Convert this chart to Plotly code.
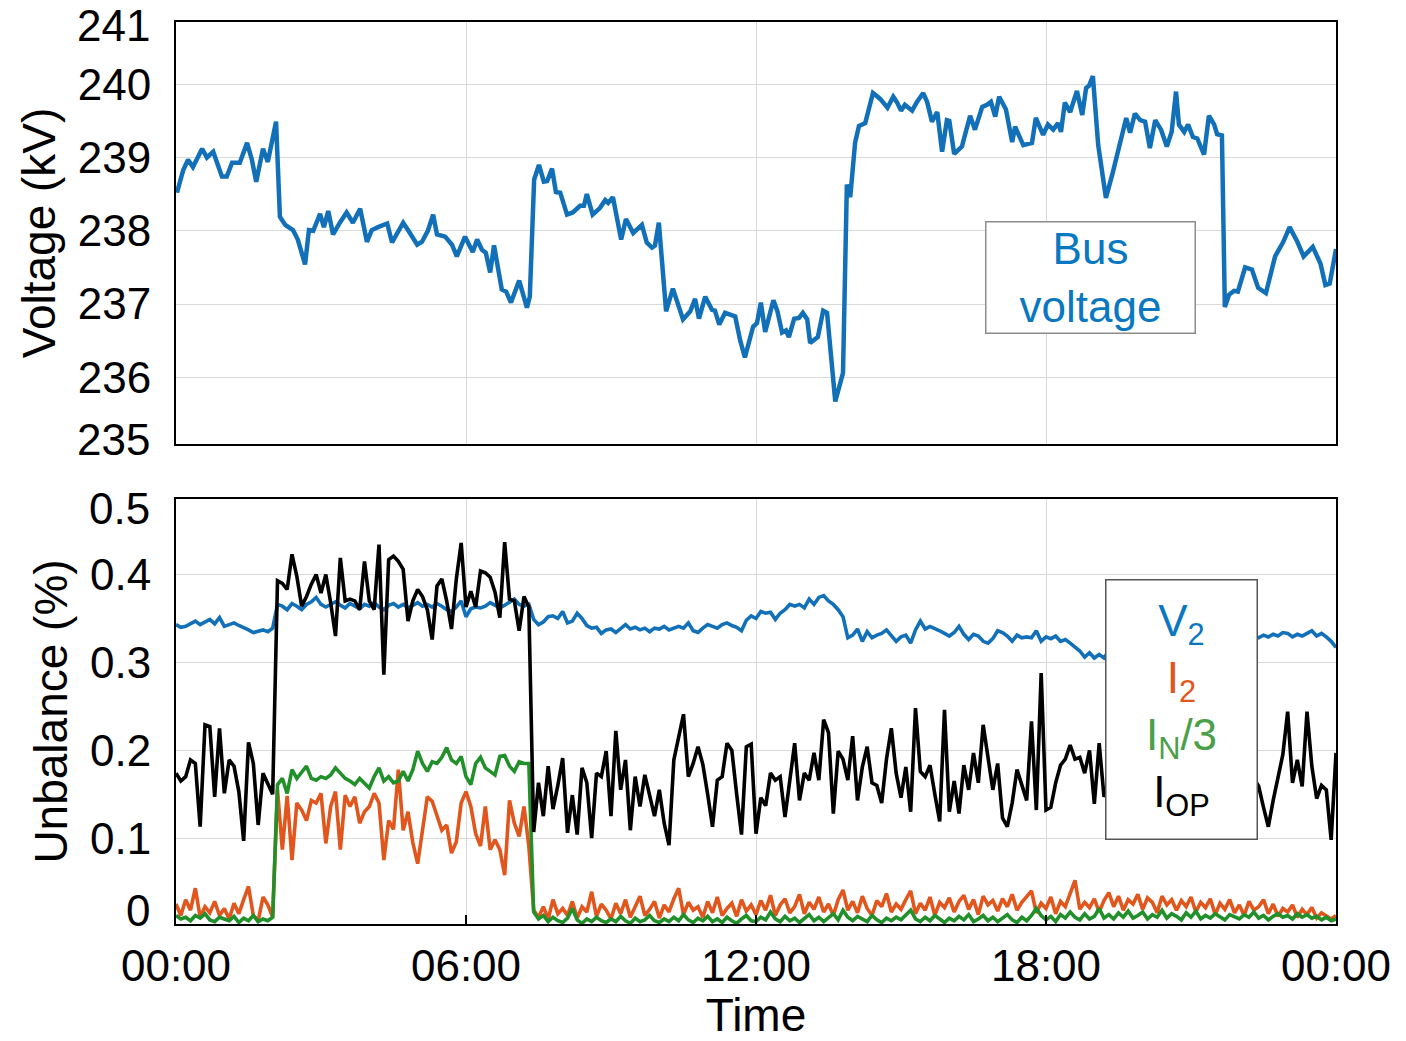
import plotly.graph_objects as go

# ---------------- data ----------------
# Bus voltage (kV), time in hours
volt_hours = [0.02, 0.15, 0.25, 0.35, 0.54, 0.64, 0.77, 0.95, 1.05, 1.16, 1.32, 1.47, 1.57, 1.66, 1.8, 1.9,
              2.07, 2.15, 2.26, 2.42, 2.52, 2.67, 2.75, 2.84, 2.98, 3.06, 3.15, 3.25, 3.39, 3.53, 3.66, 3.81,
              3.95, 4.05, 4.18, 4.37, 4.47, 4.7, 4.8, 4.99, 5.09, 5.21, 5.32, 5.4, 5.57, 5.71, 5.81, 5.98,
              6.14, 6.23, 6.33, 6.41, 6.5, 6.58, 6.74, 6.83, 6.93, 7.1, 7.26, 7.32, 7.41, 7.51, 7.61, 7.68,
              7.78, 7.86, 7.95, 8.09, 8.21, 8.36, 8.44, 8.5, 8.62, 8.77, 8.88, 8.94, 9.04, 9.12, 9.21, 9.31,
              9.46, 9.64, 9.74, 9.85, 9.91, 9.99, 10.14, 10.28, 10.49, 10.64, 10.74, 10.82, 10.95, 11.09,
              11.15, 11.24, 11.36, 11.57, 11.67, 11.77, 11.94, 12.02, 12.1, 12.19, 12.36, 12.44, 12.54,
              12.62, 12.68, 12.79, 12.89, 12.97, 13.06, 13.12, 13.28, 13.39, 13.47, 13.64, 13.8, 13.88,
              13.95, 14.05, 14.13, 14.26, 14.32, 14.42, 14.57, 14.72, 14.84, 14.92, 15.0, 15.08, 15.23,
              15.33, 15.46, 15.54, 15.64, 15.75, 15.85, 15.95, 16.0, 16.1, 16.26, 16.43, 16.53, 16.68,
              16.78, 16.86, 16.95, 17.03, 17.17, 17.3, 17.36, 17.53, 17.71, 17.79, 17.94, 18.04, 18.15,
              18.25, 18.31, 18.39, 18.5, 18.64, 18.75, 18.83, 18.89, 18.97, 19.08, 19.24, 19.38, 19.52,
              19.66, 19.74, 19.84, 19.95, 20.05, 20.15, 20.26, 20.38, 20.5, 20.6, 20.69, 20.75, 20.86,
              20.94, 21.04, 21.13, 21.19, 21.27, 21.37, 21.48, 21.54, 21.64, 21.7, 21.79, 21.89, 21.97,
              22.12, 22.26, 22.39, 22.55, 22.74, 22.91, 23.04, 23.2, 23.33, 23.52, 23.68, 23.78, 23.87, 24.0]
volt_kv = [238.52, 238.83, 238.97, 238.87, 239.12, 239.0, 239.08, 238.74, 238.74, 238.93, 238.93, 239.2,
           238.97, 238.67, 239.12, 238.94, 239.49, 238.19, 238.08, 238.01, 237.88, 237.54, 238.01, 238.0,
           238.23, 238.05, 238.27, 237.95, 238.11, 238.25, 238.11, 238.3, 237.85, 238.01, 238.05, 238.1,
           237.84, 238.11, 238.01, 237.81, 237.85, 238.0, 238.22, 237.95, 237.92, 237.81, 237.65, 237.92,
           237.71, 237.88, 237.74, 237.7, 237.43, 237.8, 237.2, 237.17, 237.02, 237.32, 236.95, 237.1,
           238.7, 238.9, 238.67, 238.68, 238.85, 238.53, 238.52, 238.22, 238.25, 238.34, 238.34, 238.5,
           238.22, 238.31, 238.42, 238.38, 238.46, 238.15, 237.88, 238.16, 237.97, 238.08, 237.84, 237.77,
           237.8, 238.11, 236.9, 237.21, 236.79, 236.9, 237.07, 236.8, 237.1, 236.92, 236.91, 236.72,
           236.88, 236.83, 236.51, 236.27, 236.69, 236.74, 237.02, 236.62, 237.05, 236.91, 236.61, 236.64,
           236.55, 236.8, 236.81, 236.88, 236.79, 236.47, 236.55, 236.91, 236.88, 235.67, 236.06, 238.63,
           238.46, 239.2, 239.43, 239.47, 239.65, 239.88, 239.8, 239.68, 239.83, 239.75, 239.64, 239.72,
           239.64, 239.76, 239.88, 239.76, 239.49, 239.62, 239.08, 239.51, 239.5, 239.05, 239.15, 239.57,
           239.38, 239.69, 239.72, 239.76, 239.56, 239.83, 239.66, 239.21, 239.42, 239.17, 239.2, 239.54,
           239.31, 239.45, 239.38, 239.47, 239.35, 239.75, 239.62, 239.91, 239.58, 239.95, 239.98, 240.11,
           239.17, 238.45, 238.79, 239.2, 239.54, 239.34, 239.6, 239.51, 239.49, 239.13, 239.51, 239.38,
           239.15, 239.35, 239.9, 239.45, 239.35, 239.45, 239.28, 239.26, 239.17, 239.04, 239.57, 239.45,
           239.32, 239.3, 236.96, 237.13, 237.18, 237.17, 237.5, 237.47, 237.22, 237.15, 237.65, 237.85,
           238.05, 237.85, 237.65, 237.78, 237.55, 237.26, 237.28, 237.75]

# Unbalance (%) sampled every 6 minutes (0.1 h), 00:00 .. 24:00
unb_hours = [i / 10 for i in range(241)]

v2_pct = [0.343, 0.340, 0.341, 0.344, 0.347, 0.343, 0.346, 0.349, 0.344, 0.351,
          0.341, 0.343, 0.345, 0.342, 0.340, 0.337, 0.334, 0.336, 0.337, 0.335,
          0.339, 0.366, 0.364, 0.360, 0.367, 0.364, 0.360, 0.366, 0.369, 0.374,
          0.366, 0.363, 0.366, 0.369, 0.365, 0.362, 0.367, 0.364, 0.361, 0.366,
          0.364, 0.368, 0.363, 0.360, 0.365, 0.367, 0.363, 0.366, 0.362, 0.365,
          0.368, 0.364, 0.366, 0.363, 0.367, 0.364, 0.360, 0.358, 0.363, 0.370,
          0.352, 0.361, 0.363, 0.362, 0.364, 0.368, 0.365, 0.362, 0.365, 0.368,
          0.372, 0.366, 0.364, 0.366, 0.349, 0.343, 0.346, 0.352, 0.353, 0.350,
          0.358, 0.345, 0.347, 0.356, 0.350, 0.342, 0.339, 0.340, 0.333, 0.337,
          0.338, 0.334, 0.339, 0.343, 0.338, 0.340, 0.337, 0.339, 0.335, 0.339,
          0.338, 0.341, 0.337, 0.339, 0.341, 0.339, 0.345, 0.336, 0.334, 0.339,
          0.343, 0.341, 0.339, 0.343, 0.345, 0.342, 0.340, 0.336, 0.348, 0.353,
          0.350, 0.358, 0.356, 0.357, 0.349, 0.356, 0.360, 0.366, 0.364, 0.366,
          0.362, 0.372, 0.366, 0.374, 0.376, 0.370, 0.366, 0.360, 0.352, 0.328,
          0.331, 0.338, 0.324, 0.335, 0.328, 0.331, 0.333, 0.337, 0.331, 0.324,
          0.329, 0.331, 0.322, 0.337, 0.347, 0.338, 0.341, 0.339, 0.336, 0.333,
          0.330, 0.334, 0.341, 0.332, 0.326, 0.332, 0.330, 0.324, 0.322, 0.327,
          0.336, 0.334, 0.330, 0.324, 0.331, 0.328, 0.329, 0.328, 0.336, 0.324,
          0.329, 0.327, 0.330, 0.324, 0.326, 0.322, 0.318, 0.313, 0.306, 0.311,
          0.305, 0.309, 0.305, 0.313, 0.311, 0.315, 0.313, 0.318, 0.316, 0.320,
          0.318, 0.322, 0.320, 0.324, 0.321, 0.325, 0.323, 0.326, 0.324, 0.327,
          0.325, 0.328, 0.326, 0.329, 0.327, 0.330, 0.328, 0.331, 0.329, 0.331,
          0.328, 0.332, 0.329, 0.331, 0.328, 0.331, 0.329, 0.332, 0.330, 0.334,
          0.333, 0.329, 0.332, 0.330, 0.333, 0.336, 0.330, 0.333, 0.329, 0.324,
          0.317]

i2_pct = [0.025, 0.012, 0.030, 0.018, 0.043, 0.010, 0.022, 0.015, 0.028, 0.012,
          0.020, 0.008, 0.026, 0.014, 0.030, 0.045, 0.012, 0.006, 0.033, 0.024,
          0.010, 0.155, 0.087, 0.148, 0.075, 0.140, 0.132, 0.120, 0.143, 0.140,
          0.151, 0.094, 0.136, 0.153, 0.087, 0.149, 0.136, 0.147, 0.117, 0.130,
          0.136, 0.151, 0.140, 0.075, 0.120, 0.110, 0.178, 0.109, 0.130, 0.095,
          0.071, 0.109, 0.147, 0.142, 0.125, 0.109, 0.115, 0.083, 0.096, 0.140,
          0.153, 0.136, 0.105, 0.091, 0.136, 0.087, 0.098, 0.087, 0.058, 0.143,
          0.117, 0.102, 0.136, 0.091, 0.018, 0.010, 0.022, 0.008, 0.030, 0.014,
          0.020, 0.012, 0.028, 0.009, 0.022, 0.016, 0.039, 0.011, 0.025, 0.018,
          0.008, 0.026, 0.014, 0.030, 0.010, 0.021, 0.034, 0.012, 0.019, 0.028,
          0.009, 0.024, 0.016, 0.031, 0.043, 0.013, 0.027, 0.018, 0.022, 0.010,
          0.028, 0.015, 0.033, 0.012, 0.020, 0.026, 0.011, 0.030, 0.017, 0.024,
          0.013, 0.029, 0.018, 0.035, 0.012, 0.024, 0.031, 0.015, 0.022, 0.036,
          0.014, 0.027, 0.019, 0.033, 0.016, 0.025, 0.012, 0.030, 0.041, 0.018,
          0.028, 0.015, 0.034, 0.020, 0.012, 0.029, 0.022, 0.037, 0.016, 0.025,
          0.019, 0.030, 0.040, 0.014, 0.026, 0.018, 0.033, 0.012, 0.027, 0.021,
          0.032, 0.016, 0.028, 0.035, 0.019, 0.030, 0.013, 0.034, 0.024, 0.029,
          0.017, 0.031, 0.022, 0.036, 0.018, 0.027, 0.033, 0.040, 0.015, 0.026,
          0.020, 0.033, 0.014, 0.028, 0.022, 0.037, 0.052, 0.019, 0.027, 0.021,
          0.031, 0.016, 0.029, 0.038, 0.022, 0.034, 0.018, 0.030, 0.025, 0.036,
          0.019, 0.032, 0.027, 0.015, 0.034, 0.024, 0.030, 0.018, 0.029, 0.022,
          0.033, 0.016, 0.027, 0.021, 0.031, 0.013, 0.026, 0.019, 0.030, 0.015,
          0.024, 0.012, 0.028, 0.018, 0.022, 0.030, 0.014, 0.025, 0.011, 0.020,
          0.016, 0.024, 0.010, 0.019, 0.013, 0.021, 0.009, 0.015, 0.012, 0.008,
          0.012]

in3_pct = [0.012, 0.008, 0.010, 0.006, 0.012, 0.009, 0.014, 0.007, 0.005, 0.010,
           0.008, 0.006, 0.011, 0.004, 0.009, 0.006, 0.012, 0.005, 0.008, 0.006,
           0.010, 0.161, 0.168, 0.151, 0.178, 0.168, 0.175, 0.182, 0.168, 0.166,
           0.170, 0.168, 0.172, 0.180, 0.174, 0.168, 0.165, 0.161, 0.168, 0.163,
           0.157, 0.170, 0.180, 0.165, 0.170, 0.163, 0.165, 0.176, 0.165, 0.178,
           0.199, 0.185, 0.176, 0.187, 0.185, 0.192, 0.203, 0.189, 0.185, 0.193,
           0.170, 0.161, 0.185, 0.192, 0.180, 0.176, 0.172, 0.193, 0.194, 0.182,
           0.176, 0.187, 0.185, 0.185, 0.016, 0.008, 0.012, 0.005, 0.010, 0.006,
           0.004, 0.009, 0.020, 0.007, 0.003, 0.008, 0.005, 0.010, 0.006, 0.004,
           0.008, 0.005, 0.011, 0.006, 0.003, 0.009, 0.005, 0.007, 0.012, 0.006,
           0.004, 0.008, 0.005, 0.010, 0.006, 0.013, 0.007, 0.004, 0.009, 0.006,
           0.011, 0.005, 0.008, 0.004, 0.010, 0.006, 0.003, 0.008, 0.012, 0.006,
           0.005, 0.010, 0.007, 0.016, 0.008, 0.005, 0.011, 0.006, 0.009, 0.004,
           0.008, 0.013, 0.006, 0.010, 0.005, 0.009, 0.014, 0.007, 0.018, 0.010,
           0.006, 0.011, 0.008, 0.005, 0.012, 0.007, 0.004, 0.009, 0.006, 0.010,
           0.007, 0.013, 0.018, 0.008, 0.005, 0.010, 0.006, 0.012, 0.008, 0.004,
           0.009, 0.006, 0.011, 0.007, 0.013, 0.005, 0.008, 0.012, 0.006, 0.010,
           0.005, 0.009, 0.013, 0.007, 0.004, 0.010, 0.006, 0.012, 0.020, 0.012,
           0.007, 0.011, 0.005, 0.013, 0.009, 0.016, 0.010, 0.007, 0.014, 0.008,
           0.011, 0.020, 0.009, 0.013, 0.008, 0.015, 0.010, 0.017, 0.009, 0.012,
           0.016, 0.008, 0.013, 0.010, 0.018, 0.009, 0.014, 0.011, 0.007, 0.015,
           0.010, 0.017, 0.008, 0.012, 0.009, 0.014, 0.011, 0.007, 0.013, 0.010,
           0.008, 0.013, 0.010, 0.016, 0.009, 0.012, 0.007, 0.011, 0.014, 0.010,
           0.012, 0.008, 0.014, 0.010, 0.013, 0.009, 0.011, 0.007, 0.010, 0.006,
           0.008]

iop_pct = [0.174, 0.165, 0.170, 0.189, 0.185, 0.113, 0.229, 0.227, 0.147, 0.225,
           0.151, 0.189, 0.182, 0.153, 0.097, 0.209, 0.185, 0.115, 0.174, 0.163,
           0.150, 0.393, 0.390, 0.383, 0.423, 0.398, 0.364, 0.375, 0.389, 0.400,
           0.379, 0.400, 0.368, 0.330, 0.419, 0.370, 0.372, 0.370, 0.360, 0.415,
           0.370, 0.360, 0.434, 0.286, 0.417, 0.421, 0.415, 0.406, 0.347, 0.370,
           0.383, 0.375, 0.360, 0.326, 0.387, 0.395, 0.370, 0.338, 0.395, 0.436,
           0.363, 0.381, 0.363, 0.404, 0.402, 0.397, 0.380, 0.351, 0.437, 0.372,
           0.370, 0.336, 0.375, 0.363, 0.107, 0.163, 0.125, 0.182, 0.133, 0.160,
           0.191, 0.106, 0.149, 0.104, 0.180, 0.163, 0.100, 0.174, 0.170, 0.199,
           0.125, 0.222, 0.155, 0.189, 0.109, 0.170, 0.136, 0.172, 0.147, 0.125,
           0.155, 0.117, 0.092, 0.189, 0.215, 0.241, 0.170, 0.185, 0.204, 0.184,
           0.150, 0.113, 0.166, 0.170, 0.208, 0.200, 0.150, 0.104, 0.204, 0.207,
           0.105, 0.146, 0.137, 0.174, 0.166, 0.170, 0.124, 0.170, 0.208, 0.143,
           0.174, 0.166, 0.197, 0.166, 0.235, 0.220, 0.128, 0.199, 0.190, 0.166,
           0.216, 0.143, 0.181, 0.204, 0.163, 0.160, 0.140, 0.190, 0.225, 0.174,
           0.146, 0.181, 0.130, 0.248, 0.176, 0.170, 0.183, 0.150, 0.119, 0.246,
           0.130, 0.165, 0.128, 0.183, 0.155, 0.197, 0.163, 0.229, 0.193, 0.155,
           0.185, 0.123, 0.113, 0.140, 0.178, 0.160, 0.143, 0.233, 0.132, 0.288,
           0.132, 0.135, 0.163, 0.183, 0.190, 0.206, 0.190, 0.192, 0.174, 0.200,
           0.139, 0.208, 0.147, 0.165, 0.190, 0.142, 0.205, 0.170, 0.128, 0.186,
           0.214, 0.150, 0.176, 0.132, 0.198, 0.160, 0.222, 0.145, 0.181, 0.169,
           0.126, 0.193, 0.210, 0.155, 0.173, 0.140, 0.201, 0.162, 0.188, 0.134,
           0.176, 0.209, 0.150, 0.168, 0.159, 0.135, 0.113, 0.143, 0.170, 0.195,
           0.244, 0.163, 0.189, 0.159, 0.244, 0.182, 0.145, 0.160, 0.155, 0.098,
           0.197]

time_tickvals = [0, 6, 12, 18, 24]
time_ticktext = ["00:00", "06:00", "12:00", "18:00", "00:00"]
volt_ticks = [236, 237, 238, 239, 240]
unb_ticks = [0.1, 0.2, 0.3, 0.4]

# ---------------- styling ----------------
FONT = "Liberation Sans, Arial, sans-serif"
BLUE = "#1270B8"
ORANGE = "#E0561C"
GREEN = "#22902A"
BLACK = "#000000"
GRID = "#D9D9D9"
TICK_SIZE = 44
TITLE_SIZE = 46

fig = go.Figure()
fig.add_trace(go.Scatter(x=volt_hours, y=volt_kv, mode="lines", line=dict(color=BLUE, width=4.5),
                         xaxis="x", yaxis="y", name="Bus voltage"))
fig.add_trace(go.Scatter(x=unb_hours, y=v2_pct, mode="lines", line=dict(color=BLUE, width=3.6),
                         xaxis="x2", yaxis="y2", name="V2"))
fig.add_trace(go.Scatter(x=unb_hours, y=i2_pct, mode="lines", line=dict(color=ORANGE, width=3.6),
                         xaxis="x2", yaxis="y2", name="I2"))
fig.add_trace(go.Scatter(x=unb_hours, y=in3_pct, mode="lines", line=dict(color=GREEN, width=3.6),
                         xaxis="x2", yaxis="y2", name="IN/3"))
fig.add_trace(go.Scatter(x=unb_hours, y=iop_pct, mode="lines", line=dict(color=BLACK, width=3.6),
                         xaxis="x2", yaxis="y2", name="IOP"))

axis_common = dict(showline=True, linecolor="black", linewidth=2, mirror=True, showgrid=True,
                   gridcolor=GRID, gridwidth=1, zeroline=False, automargin=False,
                   tickfont=dict(family=FONT, size=TICK_SIZE, color="black"))

fig.update_layout(
    width=1406, height=1041,
    margin=dict(l=176, r=70, t=22, b=117),
    paper_bgcolor="white", plot_bgcolor="white",
    showlegend=False,
    font=dict(family=FONT, color="black"),
    xaxis=dict(domain=[0, 1], anchor="y", range=[0, 24], tickvals=time_tickvals,
               showticklabels=False, ticks="", **axis_common),
    yaxis=dict(domain=[0.5322, 1], anchor="x", range=[235.09, 240.85], tickvals=volt_ticks,
               ticktext=[str(v) for v in volt_ticks], ticks="", ticklabelstandoff=14,
               title=dict(text="Voltage (kV)", font=dict(family=FONT, size=TITLE_SIZE), standoff=8),
               **axis_common),
    xaxis2=dict(domain=[0, 1], anchor="y2", range=[0, 24], tickvals=time_tickvals,
                ticktext=time_ticktext, ticks="inside", ticklen=9, tickwidth=1.5, tickcolor="black",
                ticklabelstandoff=2,
                title=dict(text="Time", font=dict(family=FONT, size=TITLE_SIZE), standoff=16),
                **axis_common),
    yaxis2=dict(domain=[0, 0.4712], anchor="x2", range=[0.0023, 0.486], tickvals=unb_ticks,
                ticktext=[f"{v:.1f}" for v in unb_ticks], ticks="", ticklabelstandoff=14,
                title=dict(text="Unbalance (%)", font=dict(family=FONT, size=TITLE_SIZE), standoff=8),
                **axis_common),
)

# edge tick labels of the original chart (sit on the frame edges)
edge_labels = [("241", 0.9956), ("235", 0.5366), ("0.5", 0.4601), ("0", 0.0155)]
for txt, yp in edge_labels:
    fig.add_annotation(text=txt, xref="paper", yref="paper", x=-0.0207, y=yp,
                       xanchor="right", yanchor="middle", showarrow=False,
                       font=dict(family=FONT, size=TICK_SIZE, color="black"))

# in-plot legend boxes
fig.add_annotation(text="Bus<br>voltage", xref="paper", yref="paper", x=0.788, y=0.7162,
                   xanchor="center", yanchor="middle", showarrow=False, align="center",
                   width=206, height=108, bgcolor="white", bordercolor="#8C8C8C", borderwidth=1.5,
                   borderpad=1, font=dict(family=FONT, size=TICK_SIZE, color="#0A78C0"))

legend_text = ("<span style='color:#0A78C0'>V<sub>2</sub></span><br>"
               "<span style='color:#E0561C'>I<sub>2</sub></span><br>"
               "<span style='color:#4AA048'>I<sub>N</sub>/3</span><br>"
               "<span style='color:#000000'>I<sub>OP</sub></span>")
fig.add_annotation(text=legend_text, xref="paper", yref="paper", x=0.8672, y=0.2373,
                   xanchor="center", yanchor="middle", showarrow=False, align="center",
                   width=148, height=256, bgcolor="white", bordercolor="#555555", borderwidth=1.5,
                   borderpad=1, font=dict(family=FONT, size=TICK_SIZE, color="black"))

fig.write_html("out.html")
